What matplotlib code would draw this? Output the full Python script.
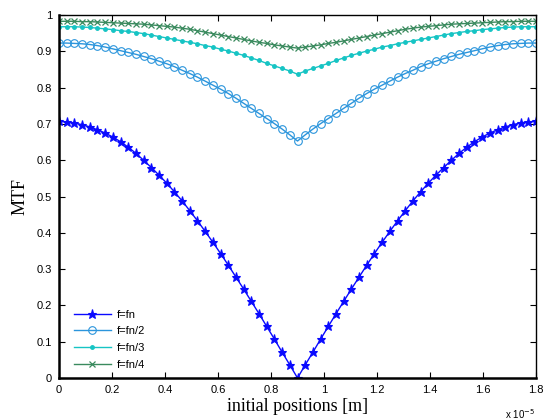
import numpy as np
import matplotlib
matplotlib.use('Agg')
import matplotlib.pyplot as plt
from matplotlib.ticker import FuncFormatter

# initial positions in units of 1e-5 m (63 samples across the aperture)
pos = np.linspace(0, 1.8, 63)

# MTF for each modulation frequency
mtf_fn = [0.707, 0.706, 0.703, 0.698, 0.692, 0.684, 0.675, 0.664, 0.651, 0.636,
          0.619, 0.600, 0.580, 0.559, 0.537, 0.513, 0.488, 0.461, 0.433, 0.404,
          0.374, 0.343, 0.311, 0.278, 0.245, 0.211, 0.177, 0.142, 0.107, 0.071,
          0.036, 0.000,
          0.036, 0.071, 0.107, 0.142, 0.177, 0.211, 0.245, 0.278, 0.311, 0.343,
          0.374, 0.404, 0.433, 0.461, 0.488, 0.513, 0.537, 0.559, 0.580, 0.600,
          0.619, 0.636, 0.651, 0.664, 0.675, 0.684, 0.692, 0.698, 0.703, 0.706,
          0.707]
mtf_fn2 = [0.923, 0.923, 0.922, 0.921, 0.919, 0.916, 0.912, 0.907, 0.902, 0.897,
           0.892, 0.886, 0.880, 0.873, 0.866, 0.858, 0.848, 0.839, 0.829, 0.818,
           0.807, 0.796, 0.784, 0.771, 0.757, 0.743, 0.729, 0.715, 0.701, 0.686,
           0.670, 0.653,
           0.670, 0.686, 0.701, 0.715, 0.729, 0.743, 0.757, 0.771, 0.784, 0.796,
           0.807, 0.818, 0.829, 0.839, 0.848, 0.858, 0.866, 0.873, 0.880, 0.886,
           0.892, 0.897, 0.902, 0.907, 0.912, 0.916, 0.919, 0.921, 0.922, 0.923,
           0.923]
mtf_fn3 = [0.968, 0.968, 0.968, 0.967, 0.966, 0.964, 0.962, 0.960, 0.957, 0.955,
           0.952, 0.949, 0.945, 0.941, 0.937, 0.933, 0.929, 0.925, 0.921, 0.916,
           0.912, 0.906, 0.901, 0.895, 0.889, 0.882, 0.875, 0.867, 0.860, 0.853,
           0.846, 0.837,
           0.846, 0.853, 0.860, 0.867, 0.875, 0.882, 0.889, 0.895, 0.901, 0.906,
           0.912, 0.916, 0.921, 0.925, 0.929, 0.933, 0.937, 0.941, 0.945, 0.949,
           0.952, 0.955, 0.957, 0.960, 0.962, 0.964, 0.966, 0.967, 0.968, 0.968,
           0.968]
mtf_fn4 = [0.983, 0.983, 0.983, 0.982, 0.982, 0.981, 0.980, 0.979, 0.978, 0.977,
           0.976, 0.975, 0.973, 0.971, 0.969, 0.967, 0.964, 0.961, 0.957, 0.953,
           0.949, 0.945, 0.941, 0.937, 0.933, 0.929, 0.925, 0.922, 0.918, 0.915,
           0.912, 0.909,
           0.912, 0.915, 0.918, 0.922, 0.925, 0.929, 0.933, 0.937, 0.941, 0.945,
           0.949, 0.953, 0.957, 0.961, 0.964, 0.967, 0.969, 0.971, 0.973, 0.975,
           0.976, 0.977, 0.978, 0.979, 0.980, 0.981, 0.982, 0.982, 0.983, 0.983,
           0.983]

labels = ['f=fn', 'f=fn/2', 'f=fn/3', 'f=fn/4']
xticks = [0, 0.2, 0.4, 0.6, 0.8, 1, 1.2, 1.4, 1.6, 1.8]
yticks = [0, 0.1, 0.2, 0.3, 0.4, 0.5, 0.6, 0.7, 0.8, 0.9, 1]

plt.rcParams['font.family'] = ['Liberation Sans', 'DejaVu Sans']

fig = plt.figure(figsize=(5.43, 4.20), dpi=100)
ax = fig.add_axes([0.1087, 0.1, 0.8784, 0.864])

ax.plot(pos, mtf_fn, color='#0a0aff', marker='*', ms=6.5, lw=1, mew=0.8, label=labels[0])
ax.plot(pos, mtf_fn2, color='#2b95dc', marker='o', ms=5.5, lw=1, mfc='none', mew=0.8, label=labels[1])
ax.plot(pos, mtf_fn3, color='#16c4c4', marker='.', ms=5, lw=1, label=labels[2])
ax.plot(pos, mtf_fn4, color='#3a8a5e', marker='x', ms=4.5, lw=1, mew=0.9, label=labels[3])

ax.set_xlim(0, 1.8)
ax.set_ylim(0, 1)
ax.set_xticks(xticks)
ax.set_yticks(yticks)
fmt = FuncFormatter(lambda v, p: ('%g' % round(v, 2)))
ax.xaxis.set_major_formatter(fmt)
ax.yaxis.set_major_formatter(fmt)
ax.tick_params(direction='in', top=True, right=True, length=4, width=0.8,
               labelsize=8, pad=5)
for s in ax.spines.values():
    s.set_linewidth(1.0)
ax.spines['left'].set_linewidth(1.8)
ax.spines['bottom'].set_linewidth(1.8)

ax.set_xlabel('initial positions [m]', family='Liberation Serif', fontsize=13, labelpad=2)
ax.set_ylabel('MTF', family='Liberation Serif', fontsize=13, labelpad=6)
ax.text(0.997, -0.1, r'x 10$^{-5}$', transform=ax.transAxes, fontsize=7,
        ha='right', va='center')

ax.legend(loc='lower left', frameon=False, fontsize=8, handlelength=3.4,
          handletextpad=0.5, labelspacing=0.6, borderaxespad=0.35,
          bbox_to_anchor=(0.013, 0.0))

fig.savefig('out.png', dpi=100)
